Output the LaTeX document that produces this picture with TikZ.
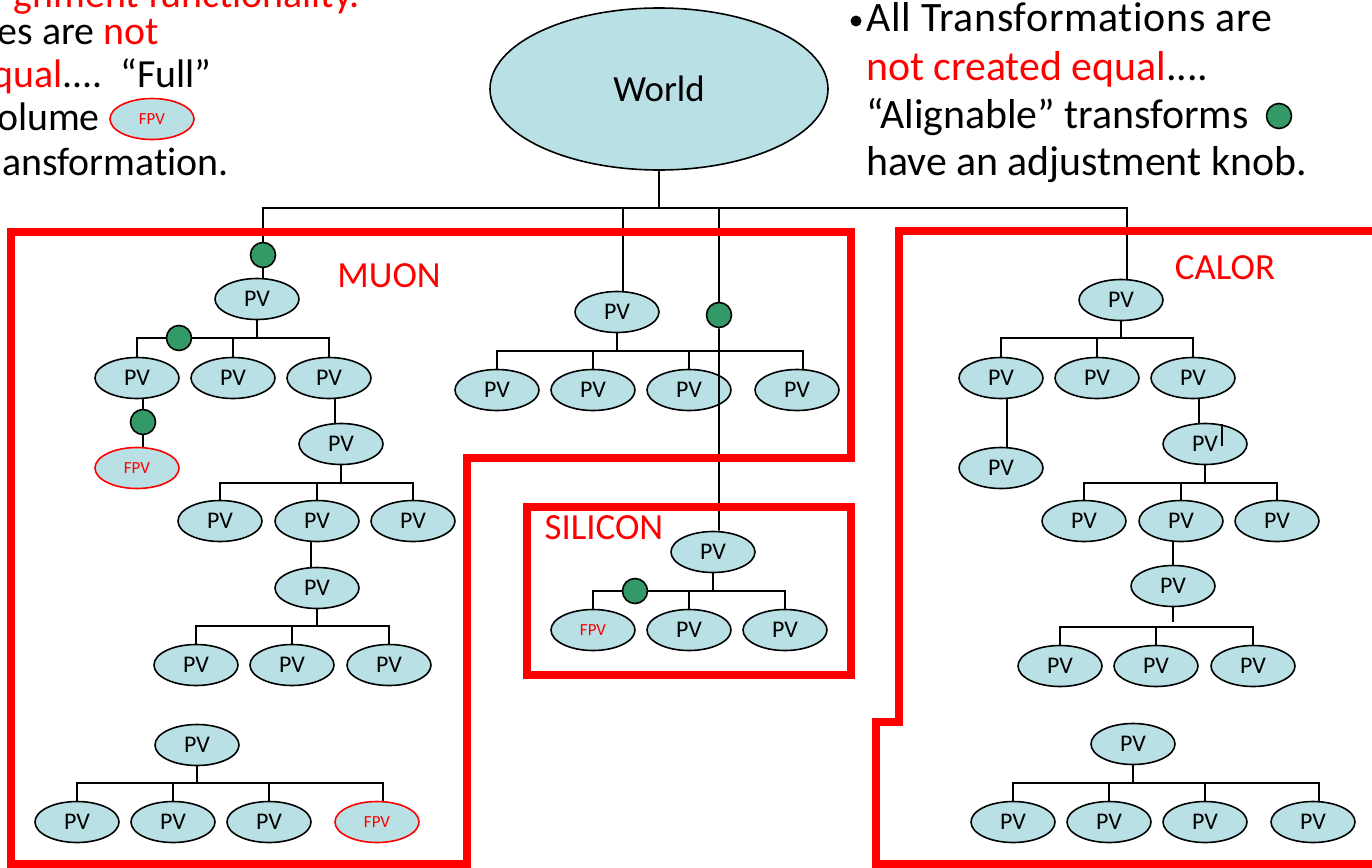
\documentclass[tikz,border=0pt]{standalone}
\usepackage{fontspec}
\setmainfont{Carlito}[Ligatures=NoCommon]
\usetikzlibrary{shapes.geometric,backgrounds}
\definecolor{pvfill}{RGB}{185,224,228}
\definecolor{knobgreen}{RGB}{51,153,102}
\begin{document}
\begin{tikzpicture}[x=1bp,y=-1bp,
  pv/.style={ellipse,draw=black,line width=1.6bp,fill=pvfill,minimum width=84bp,
    minimum height=41bp,inner sep=0pt,font=\fontsize{24}{24}\selectfont},
  pvred/.style={pv,text=red,font=\fontsize{17}{17}\selectfont},
  fpv/.style={pvred,draw=red},
  knob/.style={circle,draw=black,line width=1.6bp,fill=knobgreen,minimum size=25bp,inner sep=0pt},
  link/.style={draw=black,line width=1.8bp},
  zone/.style={draw=red,line width=7.5bp,line join=miter},
  zonelabel/.style={text=red,font=\fontsize{37}{37}\selectfont,inner sep=0pt},
  bigtext/.style={font=\fontsize{42}{42}\selectfont,inner sep=0pt,anchor=base west},
  sidetext/.style={font=\fontsize{40}{40}\selectfont,inner sep=0pt,anchor=base east}]

\useasboundingbox (0,0) rectangle (1372,867);
\clip (0,0) rectangle (1372,867);

% ---------- bus levels ----------
\coordinate (wbus) at (0,208);
\coordinate (mb1) at (0,338);
\coordinate (mb2) at (0,483);
\coordinate (mb3) at (0,626);
\coordinate (mb4) at (0,783);
\coordinate (qb) at (0,351);
\coordinate (sb) at (0,591);
\coordinate (cb1) at (0,338);
\coordinate (cb3) at (0,483);
\coordinate (cb4) at (0,627);
\coordinate (cb4stop) at (0,622);
\coordinate (cb5) at (0,783);

% ---------- root ----------
\node[pv,minimum width=338bp,minimum height=162bp,font=\fontsize{37}{37}\selectfont] (world) at (659,89) {World};

% ---------- MUON ----------
\node[pv] (m1) at (257,299) {PV};
\node[pv] (m11) at (137,378) {PV};
\node[pv] (m12) at (233,378) {PV};
\node[pv] (m13) at (329,378) {PV};
\node[fpv] (mf1) at (137,468) {FPV};
\node[pv] (m2) at (341,444) {PV};
\node[pv] (m21) at (220,521) {PV};
\node[pv] (m22) at (317,521) {PV};
\node[pv] (m23) at (413,521) {PV};
\node[pv] (m3) at (317,588) {PV};
\node[pv] (m31) at (196,665) {PV};
\node[pv] (m32) at (292,665) {PV};
\node[pv] (m33) at (389,665) {PV};
\node[pv] (m4) at (197,745) {PV};
\node[pv] (m41) at (77,822) {PV};
\node[pv] (m42) at (173,822) {PV};
\node[pv] (m43) at (269,822) {PV};
\node[fpv] (mf2) at (377,822) {FPV};

% ---------- middle group ----------
\node[pv] (q) at (617,312) {PV};
\node[pv] (q1) at (497,390) {PV};
\node[pv] (q2) at (593,390) {PV};
\node[pv] (q3) at (689,390) {PV};
\node[pv] (q4) at (797,390) {PV};

% ---------- SILICON ----------
\node[pv] (s) at (713,552) {PV};
\node[pvred] (sf) at (593,630) {FPV};
\node[pv] (s2) at (689,630) {PV};
\node[pv] (s3) at (785,630) {PV};

% ---------- CALOR ----------
\node[pv] (c1) at (1121,300) {PV};
\node[pv] (c11) at (1001,378) {PV};
\node[pv] (c12) at (1097,378) {PV};
\node[pv] (c13) at (1193,378) {PV};
\node[pv] (c2) at (1001,468) {PV};
\node[pv] (c3) at (1205,444) {PV};
\node[pv] (c31) at (1084,521) {PV};
\node[pv] (c32) at (1181,521) {PV};
\node[pv] (c33) at (1277,521) {PV};
\node[pv] (c4) at (1173,586) {PV};
\node[pv] (c41) at (1060,666) {PV};
\node[pv] (c42) at (1156,666) {PV};
\node[pv] (c43) at (1253,666) {PV};
\node[pv] (c5) at (1133,744) {PV};
\node[pv] (c51) at (1013,822) {PV};
\node[pv] (c52) at (1109,822) {PV};
\node[pv] (c53) at (1205,822) {PV};
\node[pv] (c54) at (1313,822) {PV};

% ---------- alignment knobs ----------
\node[knob] (k1) at (263,255) {};
\node[knob] (k2) at (179,338) {};
\node[knob] (k3) at (143,422) {};
\node[knob] (k4) at (719,315) {};
\node[knob] (k5) at (635,591) {};

% ---------- tree connectors (behind the volumes) ----------
\begin{scope}[on background layer]
  \draw[link] (world.south) -- (world.south |- wbus);
  \draw[link] ([xshift=6bp]m1.center) |- ([xshift=6bp]c1.center |- wbus) -- ([xshift=6bp]c1.center);
  \draw[link] ([xshift=6bp]q.center) -- ([xshift=6bp]q.center |- wbus);
  \draw[link] (k4.center) -- (k4.center |- wbus);

  % muon
  \draw[link] (m1.center) -- (m1.center |- mb1);
  \draw[link] (m11.center) |- (m13.center |- mb1) -- (m13.center);
  \draw[link] (m12.center) -- (m12.center |- mb1);
  \draw[link] ([xshift=6bp]m11.center) -- ([xshift=6bp]mf1.center);
  \draw[link] ([xshift=6bp]m13.center) -- ([xshift=-6bp]m2.center);
  \draw[link] (m2.center) -- (m2.center |- mb2);
  \draw[link] (m21.center) |- (m23.center |- mb2) -- (m23.center);
  \draw[link] (m22.center) -- (m22.center |- mb2);
  \draw[link] ([xshift=-6bp]m22.center) -- ([xshift=-6bp]m3.center);
  \draw[link] (m3.center) -- (m3.center |- mb3);
  \draw[link] (m31.center) |- (m33.center |- mb3) -- (m33.center);
  \draw[link] (m32.center) -- (m32.center |- mb3);
  \draw[link] (m4.center) -- (m4.center |- mb4);
  \draw[link] (m41.center) |- ([xshift=6bp]mf2.center |- mb4) -- ([xshift=6bp]mf2.center);
  \draw[link] (m42.center) -- (m42.center |- mb4);
  \draw[link] (m43.center) -- (m43.center |- mb4);

  % middle group
  \draw[link] (q.center) -- (q.center |- qb);
  \draw[link] (q1.center) |- ([xshift=6bp]q4.center |- qb) -- ([xshift=6bp]q4.center);
  \draw[link] (q2.center) -- (q2.center |- qb);
  \draw[link] (q3.center) -- (q3.center |- qb);

  % silicon
  \draw[link] (s.center) -- (s.center |- sb);
  \draw[link] (sf.center) |- (s3.center |- sb) -- (s3.center);
  \draw[link] (s2.center) -- (s2.center |- sb);

  % calor
  \draw[link] (c1.center) -- (c1.center |- cb1);
  \draw[link] (c11.center) |- (c13.center |- cb1) -- (c13.center);
  \draw[link] (c12.center) -- (c12.center |- cb1);
  \draw[link] ([xshift=6bp]c11.center) -- ([xshift=6bp]c2.center);
  \draw[link] ([xshift=6bp]c13.center) -- ([xshift=-6bp]c3.center);
  \draw[link] (c3.center) -- (c3.center |- cb3);
  \draw[link] (c31.center) |- (c33.center |- cb3) -- (c33.center);
  \draw[link] (c32.center) -- (c32.center |- cb3);
  \draw[link] (c4.center) -- (c4.center |- c32.center);
  \draw[link] (c4.center) -- (c4.center |- cb4stop);
  \draw[link] (c41.center) |- (c43.center |- cb4) -- (c43.center);
  \draw[link] (c42.center) -- (c42.center |- cb4);
  \draw[link] (c5.center) -- (c5.center |- cb5);
  \draw[link] (c51.center) |- ([xshift=6bp]c54.center |- cb5) -- ([xshift=6bp]c54.center);
  \draw[link] (c52.center) -- (c52.center |- cb5);
  \draw[link] (c53.center) -- (c53.center |- cb5);
\end{scope}

% long drop to silicon, passing over the middle group
\draw[link] (k4.south) -- ([xshift=6bp]s.north);
% stray tick on the calor volume
\draw[link] ([xshift=17bp,yshift=20bp]c3.center) -- ([xshift=17bp,yshift=-2bp]c3.center);

% ---------- subsystem outlines ----------
\draw[zone] (11,232) -- (851,232) -- (851,458) -- (467,458) -- (467,864) -- (11,864) -- cycle;
\draw[zone] (527,507) rectangle (851,675);
\draw[zone] (1380,231) -- (899,231) -- (899,722) -- (876,722) -- (876,864) -- (1380,864);

\node[zonelabel] (muonlabel) at (389,276) {MUON};
\node[zonelabel] (calorlabel) at (1225,268) {CALOR};
\node[zonelabel] (siliconlabel) at (604,528) {SILICON};

% ---------- right text block ----------
\node[circle,fill=black,minimum size=11bp,inner sep=0pt] (bullet) at (856,21) {};
\node[bigtext] (rt1) at (866,31) {\addfontfeature{LetterSpace=1.6}All Transformations are};
\node[bigtext] (rt2) at (866,80) {\textcolor{red}{not created equal}....};
\node[bigtext] (rt3) at (866,128) {“Alignable” transforms};
\node[knob] (legendknob) at (1279,116) {};
\node[bigtext] (rt4) at (866,175) {have an adjustment knob.};

% ---------- left text block ----------
\node[sidetext,text=red] (lt0) at (360,7) {gnment functionality.};
\node[sidetext] (lt1) at (159,44) {es are \textcolor{red}{not}};
\node[sidetext] (lt2) at (212,87) {\textcolor{red}{qual}....\ \ “Full”};
\node[sidetext] (lt3) at (100,130) {olume};
\node[fpv] (legendfpv) at (152,119) {FPV};
\node[sidetext] (lt4) at (229,175) {ansformation.};
\end{tikzpicture}
\end{document}
